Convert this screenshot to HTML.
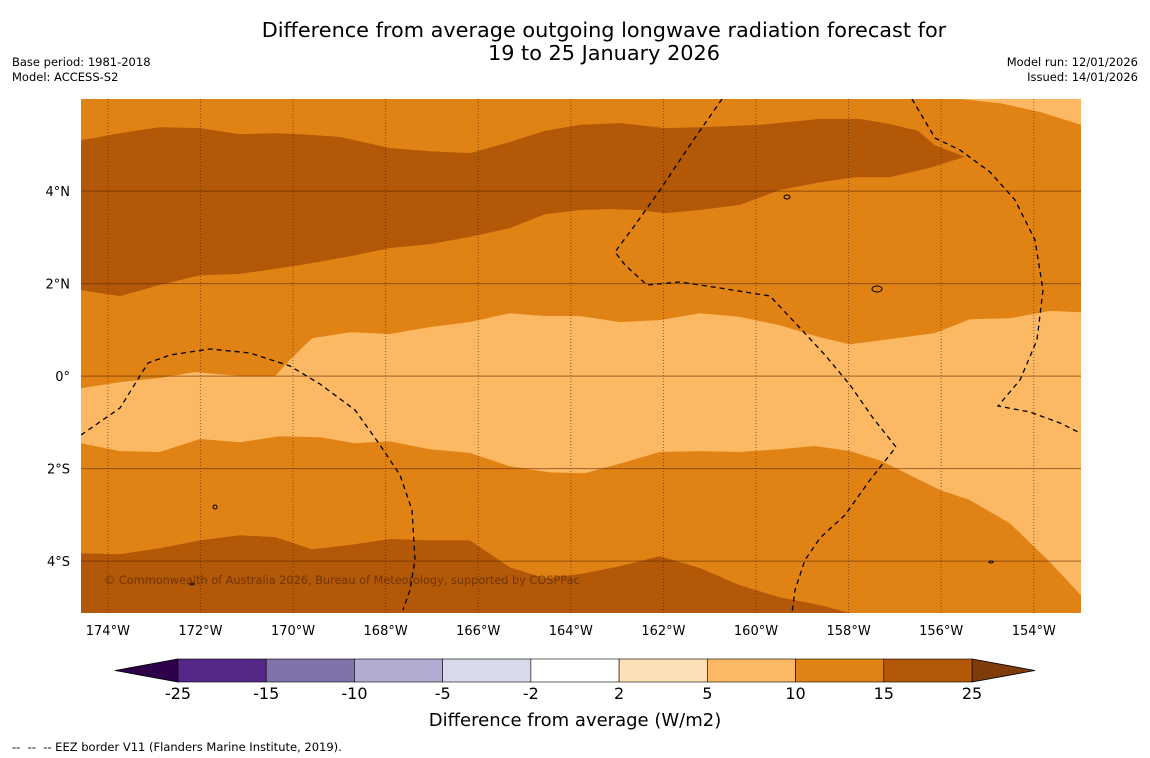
<!DOCTYPE html>
<html><head><meta charset="utf-8">
<style>
body{margin:0;background:#fff;font-family:"Liberation Sans","DejaVu Sans",sans-serif;}
#wrap{position:relative;width:1150px;height:758px;overflow:hidden;background:#fff}
.t{position:absolute;color:#000}
</style></head>
<body>
<div id="wrap">
<div class="t" style="left:0;width:1208px;top:19px;text-align:center;font-size:20.8px;line-height:23px;font-family:'DejaVu Sans',sans-serif">Difference from average outgoing longwave radiation forecast for<br>19 to 25 January 2026</div>
<div class="t" style="left:12px;top:55px;font-size:11.5px;line-height:15px;font-family:'DejaVu Sans',sans-serif">Base period: 1981-2018<br>Model: ACCESS-S2</div>
<div class="t" style="right:12px;top:55px;font-size:11.5px;line-height:15px;text-align:right;font-family:'DejaVu Sans',sans-serif">Model run: 12/01/2026<br>Issued: 14/01/2026</div>
<svg id="map" width="1150" height="758" style="position:absolute;left:0;top:0"></svg>
<div class="t" style="left:12px;top:740px;font-size:11.5px;font-family:'DejaVu Sans',sans-serif">-- &nbsp;-- &nbsp;-- EEZ border V11 (Flanders Marine Institute, 2019).</div>
</div>
<script>
const lonTicks=[-174,-172,-170,-168,-166,-164,-162,-160,-158,-156,-154];
const latTicks=[4,2,0,-2,-4];
const cbLevels=[-25,-15,-10,-5,-2,2,5,10,15,25];
const cbColors=["#542788","#8073ac","#b2abd2","#d8daeb","#ffffff","#fee0b6","#fdb863","#e08214","#b35806"];
const darkNorth=[[-174.58,5.10],[-173.74,5.25],[-172.88,5.38],[-172.01,5.36],[-171.15,5.23],[-170.39,5.25],[-169.85,5.23],[-168.99,5.17],[-167.91,4.93],[-167.05,4.86],[-166.18,4.82],[-165.32,5.06],[-164.56,5.30],[-163.81,5.43],[-162.94,5.47],[-161.97,5.36],[-161.21,5.38],[-159.92,5.43],[-158.62,5.56],[-157.76,5.56],[-157.11,5.45],[-156.50,5.30],[-156.14,4.99],[-155.49,4.74],[-156.25,4.50],[-157.11,4.30],[-157.87,4.30],[-158.62,4.19],[-159.49,4.02],[-160.35,3.70],[-161.21,3.59],[-161.97,3.52],[-162.51,3.59],[-163.16,3.61],[-163.81,3.59],[-164.56,3.50],[-165.32,3.20],[-166.18,3.01],[-167.05,2.85],[-167.91,2.77],[-168.77,2.59],[-169.85,2.40],[-171.15,2.21],[-172.01,2.18],[-172.88,1.97],[-173.74,1.73],[-174.58,1.86]];
const lightNE=[[-155.70,6.0],[-154.73,5.90],[-153.86,5.71],[-152.98,5.43],[-152.98,6.0]];
const lightMid=[[-174.58,-0.26],[-173.74,-0.13],[-172.88,-0.04],[-172.12,0.09],[-171.15,0],[-170.39,0],[-170.07,0.35],[-169.59,0.82],[-168.77,0.95],[-167.91,0.91],[-167.05,1.06],[-166.18,1.17],[-165.32,1.36],[-164.56,1.30],[-163.81,1.30],[-162.94,1.17],[-162.08,1.21],[-161.21,1.36],[-160.35,1.28],[-159.49,1.10],[-158.62,0.84],[-157.97,0.69],[-157.11,0.80],[-156.14,0.93],[-155.38,1.23],[-154.52,1.25],[-153.65,1.41],[-152.98,1.38],[-152.98,-4.74],[-153.65,-4.02],[-154.52,-3.18],[-155.38,-2.68],[-156.03,-2.46],[-156.68,-2.14],[-157.33,-1.82],[-157.97,-1.62],[-158.73,-1.51],[-159.49,-1.58],[-160.35,-1.64],[-161.21,-1.62],[-162.08,-1.64],[-162.83,-1.86],[-163.70,-2.10],[-164.45,-2.08],[-165.32,-1.95],[-166.18,-1.66],[-167.05,-1.58],[-167.91,-1.41],[-168.67,-1.45],[-169.42,-1.32],[-170.29,-1.30],[-171.15,-1.43],[-172.01,-1.36],[-172.88,-1.64],[-173.74,-1.62],[-174.58,-1.45]];
const darkSouth=[[-174.58,-3.83],[-173.74,-3.85],[-172.88,-3.72],[-172.01,-3.55],[-171.15,-3.44],[-170.39,-3.48],[-169.59,-3.74],[-168.77,-3.65],[-167.91,-3.52],[-167.05,-3.55],[-166.18,-3.55],[-165.32,-4.13],[-164.56,-4.37],[-163.70,-4.26],[-162.94,-4.11],[-162.08,-3.89],[-161.21,-4.15],[-160.35,-4.52],[-159.49,-4.78],[-158.62,-4.95],[-157.97,-5.12],[-174.58,-5.12]];

const NS="http://www.w3.org/2000/svg";
const svg=document.getElementById('map');
const X0=81,X1=1081,Y0=99,Y1=613,LON0=-174.58,LON1=-152.98,LAT0=5.99,LAT1=-5.12;
function xs(lon){return X0+(lon-LON0)/(LON1-LON0)*(X1-X0);}
function ys(lat){return Y0+(lat-LAT0)/(LAT1-LAT0)*(Y1-Y0);}
function mk(tag,attrs){const e=document.createElementNS(NS,tag);for(const k in attrs)e.setAttribute(k,attrs[k]);svg.appendChild(e);return e;}
const clip=mk('clipPath',{id:'cp'});
const cr=document.createElementNS(NS,'rect');cr.setAttribute('x',X0);cr.setAttribute('y',Y0);cr.setAttribute('width',X1-X0);cr.setAttribute('height',Y1-Y0);clip.appendChild(cr);
let bg=mk('rect',{x:X0,y:Y0,width:X1-X0,height:Y1-Y0,fill:'#e08214'});


function poly(pts,fill,name){
  const d=pts.map((p,i)=>(i?'L':'M')+xs(p[0]).toFixed(1)+','+ys(p[1]).toFixed(1)).join('')+'Z';
  const e=mk('path',{d:d,fill:fill,'clip-path':'url(#cp)'});
  
  
}
poly(darkNorth,'#b35806','contour-15-25-north');
poly(lightNE,'#fdb863','contour-5-10-northeast');
poly(lightMid,'#fdb863','contour-5-10-equator');
poly(darkSouth,'#b35806','contour-15-25-south');
lonTicks.forEach(l=>{
  let g=mk('line',{x1:xs(l),x2:xs(l),y1:Y0,y2:Y1,stroke:'rgba(60,30,0,0.6)','stroke-width':1,'stroke-dasharray':'1,2'});
  
  
  let t=mk('text',{x:xs(l),y:635,'text-anchor':'middle','font-size':13,'font-family':'DejaVu Sans,sans-serif'});
  t.textContent=Math.abs(l)+'°W';
  
  
});
latTicks.forEach(l=>{
  let g=mk('line',{x1:X0,x2:X1,y1:ys(l),y2:ys(l),stroke:'rgba(90,40,0,0.6)','stroke-width':1});
  
  
  let t=mk('text',{x:70,y:ys(l)+5,'text-anchor':'end','font-size':13,'font-family':'DejaVu Sans,sans-serif'});
  t.textContent=l==0?'0°':Math.abs(l)+'°'+(l>0?'N':'S');
  
  
});
[
 "M722,99 L690,145 L660,190 L635,225 L615,252 L625,265 L647,285 L680,282 L720,288 L770,296 L800,328 L825,355 L850,385 L873,418 L896,447 L870,480 L845,515 L820,538 L805,560 L795,590 L792,613",
 "M912,99 L935,138 L960,150 L990,172 L1015,200 L1035,240 L1043,290 L1037,340 L1020,380 L998,406 L1030,412 L1060,423 L1078,432",
 "M81,435 L120,408 L148,363 L170,355 L210,349 L250,353 L290,366 L320,384 L355,410 L380,445 L400,475 L412,510 L415,560 L410,590 L403,610"
].forEach(d=>{
  let e=mk('path',{d:d,fill:'none',stroke:'#000','stroke-width':1.3,'stroke-dasharray':'5,4','clip-path':'url(#cp)'});
  
  
});
[[787,197,3,2],[877,289,5,3],[215,507,2,2],[192,584,2,1],[991,562,2,1]].forEach(p=>{
  let e=mk('ellipse',{cx:p[0],cy:p[1],rx:p[2],ry:p[3],fill:'none',stroke:'#000','stroke-width':1});
  
  
});
let cp=mk('text',{x:104,y:584,'font-size':11.3,fill:'#5a2a00','fill-opacity':0.75,'font-family':'DejaVu Sans,sans-serif'});
cp.textContent='© Commonwealth of Australia 2026, Bureau of Meteorology, supported by COSPPac';


const CB0=178,CB1=972,CBY=659,CBH=23;
function cbx(i){return CB0+i*(CB1-CB0)/(cbLevels.length-1);}
let le=mk('polygon',{points:`115,${CBY+CBH/2} ${CB0},${CBY} ${CB0},${CBY+CBH}`,fill:'#2d004b',stroke:'#000','stroke-width':0.8});


let re=mk('polygon',{points:`1035,${CBY+CBH/2} ${CB1},${CBY} ${CB1},${CBY+CBH}`,fill:'#7f3b08',stroke:'#000','stroke-width':0.8});


cbColors.forEach((c,i)=>{
  let r=mk('rect',{x:cbx(i),y:CBY,width:cbx(i+1)-cbx(i),height:CBH,fill:c,stroke:'#000','stroke-width':0.6});
  
  
});
cbLevels.forEach((v,i)=>{
  let t=mk('text',{x:cbx(i),y:699,'text-anchor':'middle','font-size':16,'font-family':'DejaVu Sans,sans-serif'});
  t.textContent=v;
  
  
});
let ct=mk('text',{x:575,y:726,'text-anchor':'middle','font-size':18,'font-family':'DejaVu Sans,sans-serif'});
ct.textContent='Difference from average (W/m2)';


</script>
</body></html>
